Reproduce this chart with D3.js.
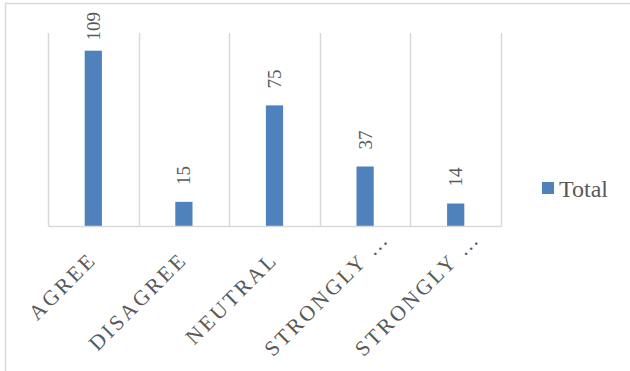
<!DOCTYPE html>
<html>
<head>
<meta charset="utf-8">
<script src="https://cdn.jsdelivr.net/npm/d3@7"></script>
<style>
  html, body { margin: 0; padding: 0; background: #fff; }
  svg { display: block; }
  text { font-family: "Liberation Serif", "Times New Roman", serif; fill: #595959; }
</style>
</head>
<body>
<svg id="chart" width="630" height="371"></svg>
<script>
// Survey responses
const categories = ["AGREE", "DISAGREE", "NEUTRAL", "STRONGLY …", "STRONGLY …"];
const totals = [109, 15, 75, 37, 14];
const seriesName = "Total";

const W = 630, H = 371;
const plot = { left: 48, right: 501, top: 33, bottom: 226 };
const barColor = "#4f81bd";
const gridColor = "#d9d9d9";

const svg = d3.select("#chart");

// Outer chart frame (extends past the right and bottom edges)
svg.append("rect")
  .attr("x", 5.5).attr("y", 3.5)
  .attr("width", W + 20).attr("height", H + 20)
  .attr("fill", "none").attr("stroke", gridColor).attr("stroke-width", 1.5);

const x = d3.scaleBand()
  .domain(d3.range(categories.length))
  .range([plot.left, plot.right])
  .padding(0);

const y = d3.scaleLinear().domain([0, 120]).range([plot.bottom, plot.top]);

// Vertical separators between categories
const bounds = d3.range(categories.length + 1).map(i => plot.left + i * x.step());
svg.append("g").selectAll("line").data(bounds).join("line")
  .attr("x1", d => Math.round(d) + 0.5).attr("x2", d => Math.round(d) + 0.5)
  .attr("y1", plot.top).attr("y2", plot.bottom)
  .attr("stroke", gridColor).attr("stroke-width", 1.5);

// Bars
const barW = x.bandwidth() * 0.19;
svg.append("g").selectAll("rect").data(totals).join("rect")
  .attr("x", (d, i) => x(i) + x.bandwidth() / 2 - barW / 2)
  .attr("width", barW)
  .attr("y", d => y(d))
  .attr("height", d => y(0) - y(d))
  .attr("fill", barColor);

// Category axis, labels rotated 45°; truncated labels sit further along their baseline
const xAxis = d3.axisBottom(x).tickSize(0).tickFormat(i => categories[i]);
const gx = svg.append("g").attr("transform", `translate(0,${plot.bottom})`).call(xAxis);
gx.select(".domain").attr("stroke", gridColor).attr("stroke-width", 1.5);
gx.selectAll(".tick text")
  .style("font-family", "'Liberation Serif', 'Times New Roman', serif")
  .attr("font-size", 21.5)
  .attr("letter-spacing", "2.8px")
  .attr("fill", "#595959")
  .attr("text-anchor", "end")
  .attr("dy", null)
  .attr("y", 0)
  .attr("dx", i => categories[i].endsWith("…") ? 30 : 0)
  .attr("transform", "translate(4.5,35) rotate(-45)");

// Value labels, rotated, above each bar
const labels = svg.append("g").selectAll("text").data(totals).join("text")
  .attr("font-size", 19)
  .attr("text-anchor", "start")
  .text(d => d);
labels.each(function (d, i) {
  const len = this.getComputedTextLength();
  const cx = x(i) + x.bandwidth() / 2;
  const endY = Math.max(y(d) - 17, 12 + len);
  d3.select(this).attr("transform", `translate(${cx + 6.5},${endY}) rotate(-90)`);
});

// Legend
const lg = svg.append("g").attr("transform", "translate(542,182)");
lg.append("rect").attr("width", 12).attr("height", 12).attr("fill", barColor);
lg.append("text").attr("x", 17).attr("y", 14.5).attr("font-size", 24).text(seriesName);
</script>
</body>
</html>
